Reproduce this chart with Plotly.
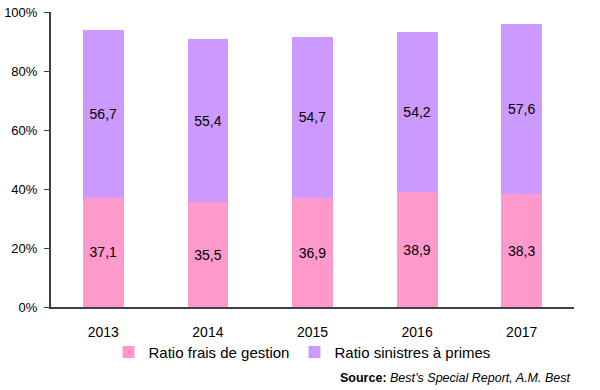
import plotly.graph_objects as go

years = ["2013", "2014", "2015", "2016", "2017"]
frais = [37.1, 35.5, 36.9, 38.9, 38.3]
sinistres = [56.7, 55.4, 54.7, 54.2, 57.6]
y_ticks = [0, 20, 40, 60, 80, 100]
y_tick_labels = ["0%", "20%", "40%", "60%", "80%", "100%"]

def fr(v):
    return f"{v:.1f}".replace(".", ",")

FONT = "Liberation Sans, Arial"

fig = go.Figure()
fig.add_trace(go.Bar(
    x=years, y=frais, name="Ratio frais de gestion",
    marker=dict(color="#FF99CC", line=dict(width=0)),
    text=[fr(v) for v in frais], textposition="inside", insidetextanchor="middle",
    textfont=dict(color="#000000", size=14, family=FONT),
))
fig.add_trace(go.Bar(
    x=years, y=sinistres, name="Ratio sinistres à primes",
    marker=dict(color="#CC99FF", line=dict(width=0)),
    text=[fr(v) for v in sinistres], textposition="inside", insidetextanchor="middle",
    textfont=dict(color="#000000", size=14, family=FONT),
))

fig.update_layout(
    barmode="stack",
    bargap=0.61,
    width=600, height=390,
    margin=dict(l=51, r=26, t=12, b=83, autoexpand=False),
    plot_bgcolor="white", paper_bgcolor="white",
    font=dict(family=FONT, size=13, color="#000000"),
    showlegend=True,
    legend=dict(orientation="h", x=0.11, xanchor="left", y=-0.153, yanchor="middle",
                font=dict(size=15), traceorder="normal", itemwidth=30,
                bgcolor="rgba(0,0,0,0)",
                tracegroupgap=0, itemclick=False),
    uniformtext=dict(mode=False),
    xaxis=dict(showline=True, linecolor="#404040", linewidth=2,
               ticks="outside", ticklen=11, tickcolor="rgba(0,0,0,0)",
               tickfont=dict(size=14), showgrid=False, automargin=False),
    yaxis=dict(range=[0, 100], tickvals=y_ticks, ticktext=y_tick_labels,
               showline=True, linecolor="#404040", linewidth=2,
               ticks="outside", ticklen=5, tickcolor="#404040", tickwidth=1,
               ticklabelstandoff=4,
               showgrid=False, zeroline=False, tickfont=dict(size=13),
               automargin=False),
    annotations=[dict(
        text="<b>Source:</b> <i>Best’s Special Report, A.M. Best</i>",
        xref="paper", yref="paper", x=0.996, y=-0.24, xanchor="right", yanchor="middle",
        showarrow=False, font=dict(size=12.5, color="#000000"),
    )],
)

fig.write_html("out.html", config={"displayModeBar": False},
               post_script="document.body.style.margin='0';document.body.style.overflow='hidden';")
